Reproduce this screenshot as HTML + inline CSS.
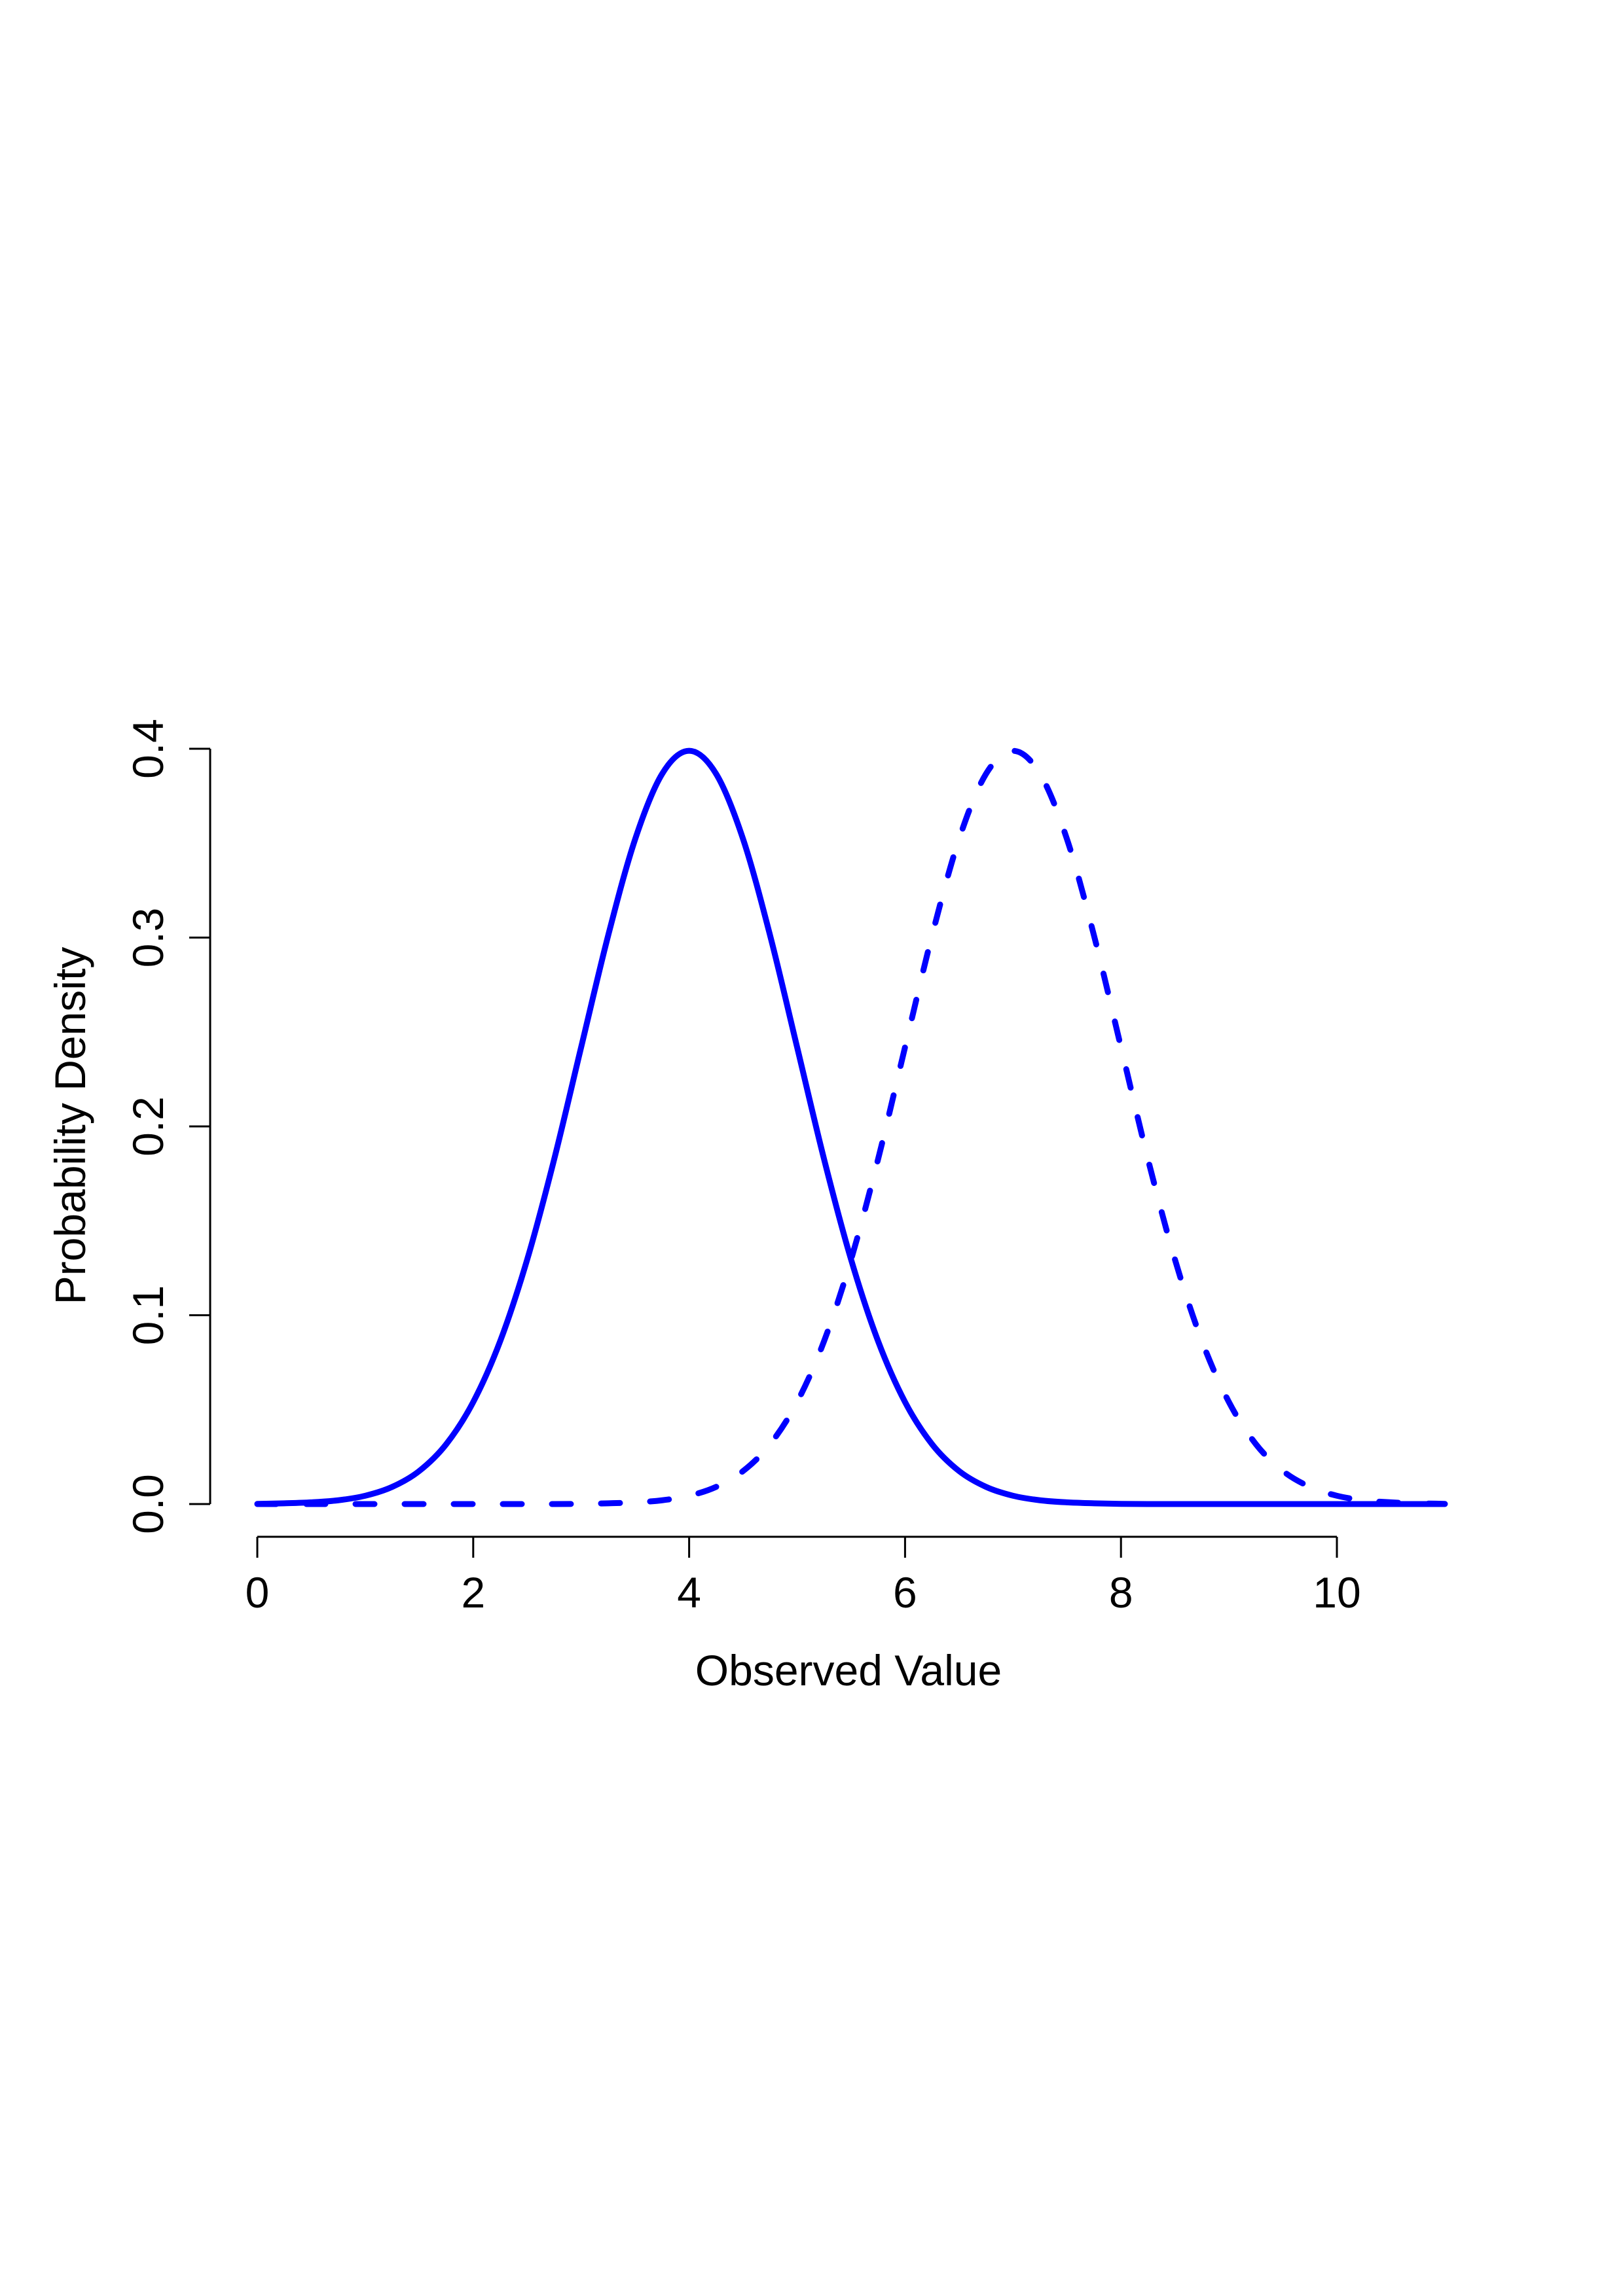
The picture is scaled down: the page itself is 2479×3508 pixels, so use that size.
<!DOCTYPE html>
<html><head><meta charset="utf-8"><style>
html,body{margin:0;padding:0;background:#fff;}
svg{display:block;font-family:"Liberation Sans",sans-serif;}
</style></head><body>
<svg id="chart" width="2479" height="3508" viewBox="0 0 2479 3508" xmlns="http://www.w3.org/2000/svg">
<rect width="2479" height="3508" fill="#fff"/>
<g id="axes"></g>
<g id="series"></g>
<text x="1296" y="2552" font-size="66" text-anchor="middle" dominant-baseline="central">Observed Value</text>
<text x="107" y="1720" font-size="66" text-anchor="middle" dominant-baseline="central" transform="rotate(-90 107 1720)">Probability Density</text>
</svg>
<script>
const xValues = [0,0.25,0.5,0.75,1,1.25,1.5,1.75,2,2.25,2.5,2.75,3,3.25,3.5,3.75,4,4.25,4.5,4.75,5,5.25,5.5,5.75,6,6.25,6.5,6.75,7,7.25,7.5,7.75,8,8.25,8.5,8.75,9,9.25,9.5,9.75,10,10.25,10.5,10.75,11];
const solidValues = [0.0001,0.0004,0.0009,0.0020,0.0044,0.0091,0.0175,0.0317,0.0540,0.0863,0.1295,0.1826,0.2420,0.3011,0.3521,0.3867,0.3989,0.3867,0.3521,0.3011,0.2420,0.1826,0.1295,0.0863,0.0540,0.0317,0.0175,0.0091,0.0044,0.0020,0.0009,0.0004,0.0001,0,0,0,0,0,0,0,0,0,0,0,0];
const dashedValues = [0,0,0,0,0,0,0,0,0,0,0,0,0.0001,0.0004,0.0009,0.0020,0.0044,0.0091,0.0175,0.0317,0.0540,0.0863,0.1295,0.1826,0.2420,0.3011,0.3521,0.3867,0.3989,0.3867,0.3521,0.3011,0.2420,0.1826,0.1295,0.0863,0.0540,0.0317,0.0175,0.0091,0.0044,0.0020,0.0009,0.0004,0.0001];
const xTicks = [0,2,4,6,8,10];
const xTickLabels = ["0","2","4","6","8","10"];
const yTicks = [0,0.1,0.2,0.3,0.4];
const yTickLabels = ["0.0","0.1","0.2","0.3","0.4"];

const NS = "http://www.w3.org/2000/svg";
function sx(v){ return 393 + v * 164.9; }
function sy(v){ return 2298 - v * 2885; }
function mk(tag, attrs, parent){ const e=document.createElementNS(NS,tag); for(const k in attrs) e.setAttribute(k,attrs[k]); parent.appendChild(e); return e; }
const axes=document.getElementById('axes');
const series=document.getElementById('series');

// x axis
let xl=mk('line',{x1:sx(xTicks[0]),x2:sx(xTicks[xTicks.length-1]),y1:2348,y2:2348,stroke:'#000','stroke-width':3},axes);


xTicks.forEach((t,i)=>{
  const tk=mk('line',{x1:sx(t),x2:sx(t),y1:2348,y2:2380,stroke:'#000','stroke-width':3},axes);
  
  
  const lb=mk('text',{x:sx(t),y:2433,'font-size':66,'text-anchor':'middle','dominant-baseline':'central'},axes);
  lb.textContent=xTickLabels[i];
  
  
});
// y axis
let yl=mk('line',{x1:321,x2:321,y1:sy(yTicks[0]),y2:sy(yTicks[yTicks.length-1]),stroke:'#000','stroke-width':3},axes);


yTicks.forEach((t,i)=>{
  const tk=mk('line',{x1:289,x2:321,y1:sy(t),y2:sy(t),stroke:'#000','stroke-width':3},axes);
  
  
  const lb=mk('text',{x:226,y:sy(t),'font-size':66,'text-anchor':'middle','dominant-baseline':'central',transform:`rotate(-90 226 ${sy(t)})`},axes);
  lb.textContent=yTickLabels[i];
  
  
});

// monotone cubic path
function pathFor(xs, ys){
  const n=xs.length, px=xs.map(sx), py=ys.map(sy);
  const d=[], m=[];
  for(let i=0;i<n-1;i++) d.push((py[i+1]-py[i])/(px[i+1]-px[i]));
  m[0]=d[0]; m[n-1]=d[n-2];
  for(let i=1;i<n-1;i++) m[i]=(d[i-1]*d[i]<=0)?0:(d[i-1]+d[i])/2;
  for(let i=0;i<n-1;i++){
    if(d[i]===0){m[i]=0;m[i+1]=0;continue;}
    const a=m[i]/d[i], b=m[i+1]/d[i], s=a*a+b*b;
    if(s>9){const t=3/Math.sqrt(s); m[i]=t*a*d[i]; m[i+1]=t*b*d[i];}
  }
  let p=`M${px[0]},${py[0]}`;
  for(let i=0;i<n-1;i++){
    const h=(px[i+1]-px[i])/3;
    p+=` C${px[i]+h},${py[i]+m[i]*h} ${px[i+1]-h},${py[i+1]-m[i+1]*h} ${px[i+1]},${py[i+1]}`;
  }
  return p;
}
const solid=mk('path',{d:pathFor(xValues,solidValues),fill:'none',stroke:'#0000ff','stroke-width':9,'stroke-linecap':'round','stroke-linejoin':'round'},series);


const dashed=mk('path',{d:pathFor(xValues,dashedValues),fill:'none',stroke:'#0000ff','stroke-width':9,'stroke-linecap':'round','stroke-linejoin':'round','stroke-dasharray':'29 46'},series);


</script>
</body></html>
